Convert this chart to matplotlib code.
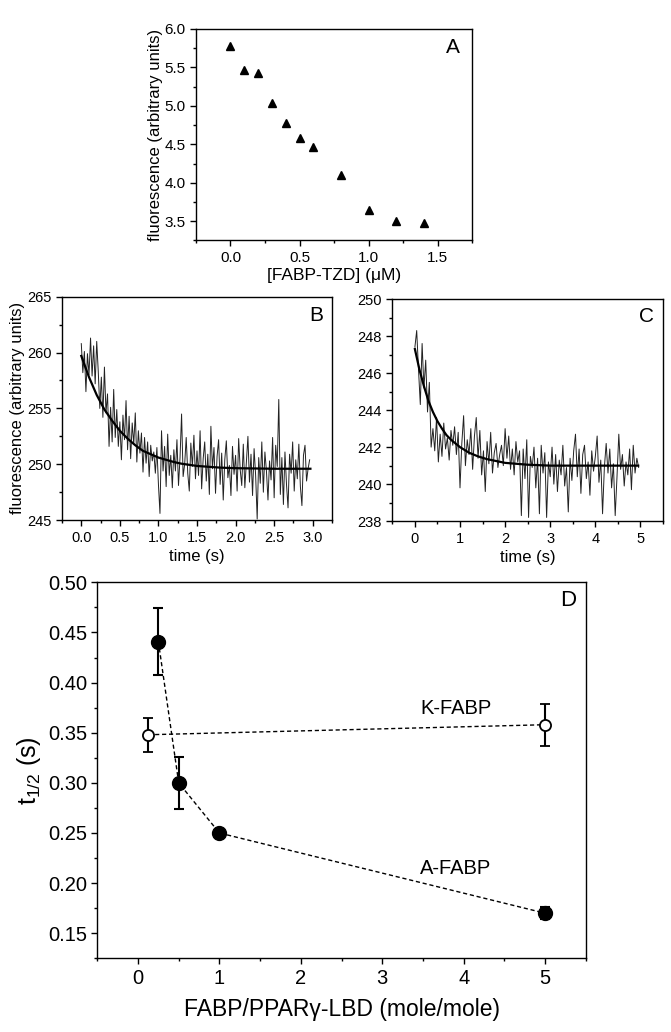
import numpy as np
import matplotlib
matplotlib.use("Agg")
import matplotlib.pyplot as plt
from matplotlib.ticker import MultipleLocator

plt.rcParams["font.family"] = ["Liberation Sans", "DejaVu Sans"]
plt.rcParams["mathtext.fontset"] = "custom"
plt.rcParams["mathtext.rm"] = "Liberation Sans"
plt.rcParams["mathtext.it"] = "Liberation Sans"

# Panel A: titration
a_conc = [0.0, 0.1, 0.2, 0.3, 0.4, 0.5, 0.6, 0.8, 1.0, 1.2, 1.4]
a_fluor = [5.78, 5.47, 5.43, 5.04, 4.78, 4.58, 4.46, 4.10, 3.64, 3.50, 3.48]

# Panel B: stopped-flow trace (0.02 s per sample) and fitted curve
b_step = 0.02
b_trace = [
    260.8, 258.2, 260.1, 256.5, 259.9, 258.0, 261.3, 257.9, 260.6, 257.2, 261.0,
    258.3, 255.0, 257.8, 254.2, 258.7, 254.6, 256.3, 251.6, 255.1, 252.0,
    256.7, 252.4, 254.9, 251.6, 253.8, 250.4, 254.4, 252.2, 255.7, 251.3,
    254.3, 250.5, 253.7, 251.8, 254.6, 250.2, 253.0, 251.0, 252.8, 249.3,
    252.4, 250.1, 252.0, 248.9, 251.7, 250.3, 251.1, 249.2, 251.5, 248.2,
    245.6, 253.0, 249.4, 251.6, 248.0, 252.7, 249.0, 250.8, 247.9, 251.3,
    249.4, 252.2, 248.1, 250.6, 254.5, 248.9, 250.0, 252.4, 249.2, 247.6,
    251.9, 249.8, 252.6, 248.7, 251.2, 249.0, 253.0, 247.8, 250.5, 252.0,
    248.5, 250.9, 247.3, 253.4, 249.6, 251.5, 247.4, 250.7, 252.2, 248.2,
    251.0, 246.8, 250.4, 252.1, 248.8, 249.9, 247.2, 251.6, 249.1, 250.8,
    247.6, 252.3, 249.5, 248.1, 251.8, 247.9, 250.2, 252.5, 248.4, 250.9,
    247.2, 251.4, 249.0, 245.1, 250.6, 248.3, 252.0, 247.5, 251.1, 249.4,
    246.8, 250.3, 248.6, 252.4, 247.0, 251.7, 249.8, 255.8, 247.3, 250.6,
    246.4, 251.1, 248.2, 246.1, 250.9, 249.2, 252.0, 247.6, 250.4, 248.7,
    251.8, 248.0, 246.3, 250.8, 251.7, 248.5, 249.6, 250.4,
]
b_fit_t = [0.0, 0.1, 0.2, 0.3, 0.4, 0.5, 0.6, 0.7, 0.8, 0.9, 1.0, 1.1, 1.2,
           1.3, 1.4, 1.5, 1.6, 1.7, 1.8, 2.0, 2.5, 2.97]
b_fit = [259.7, 257.8, 256.2, 254.9, 253.9, 253.0, 252.3, 251.7, 251.2, 250.9,
         250.6, 250.4, 250.2, 250.05, 249.95, 249.85, 249.8, 249.75, 249.7,
         249.65, 249.6, 249.6]

# Panel C: stopped-flow trace (0.04 s per sample) and fitted curve
c_step = 0.04
c_trace = [
    247.4, 248.3, 246.2, 244.3, 247.6, 245.2, 246.7, 243.9, 245.5, 242.0,
    243.0, 241.8, 243.6, 241.2, 242.7, 241.5, 243.3, 241.9, 242.5, 241.3,
    242.9, 242.1, 243.1, 241.6, 242.8, 239.8, 242.2, 243.7, 241.0, 242.4,
    241.6, 243.0, 240.8, 242.6, 243.6, 241.4, 242.9, 240.5, 241.8, 239.6,
    242.3, 241.1, 242.8, 240.6, 241.7, 242.2, 240.9, 241.6, 242.1, 241.0,
    243.0, 241.4, 242.6, 240.8, 241.9, 240.5, 242.3, 241.2, 241.8, 238.3,
    241.9, 240.3, 242.4, 238.2, 241.5, 240.9, 242.0, 239.8, 241.4, 238.4,
    242.1, 240.6, 241.7, 238.2, 241.2, 240.4, 242.0, 240.0, 241.6, 239.6,
    241.3, 240.5, 242.1, 239.9, 240.9, 238.5, 241.4, 240.2, 241.8, 242.7,
    240.4, 241.9, 239.5, 241.6, 242.1, 240.3, 241.2, 239.4, 241.8, 240.7,
    241.5, 242.6, 240.1, 241.3, 238.4, 240.9, 242.2, 240.6, 241.9, 239.8,
    241.1, 238.3, 240.4, 242.7, 240.8, 241.6, 239.9, 241.2, 240.5, 241.9,
    239.7, 242.1, 240.6, 241.4, 240.9,
]
c_fit_t = [0.0, 0.1, 0.2, 0.3, 0.4, 0.5, 0.6, 0.7, 0.8, 0.9, 1.0, 1.2, 1.4,
           1.6, 1.8, 2.0, 2.5, 3.0, 4.0, 4.95]
c_fit = [247.3, 246.2, 245.3, 244.5, 243.9, 243.4, 243.0, 242.65, 242.4, 242.2,
         242.0, 241.7, 241.5, 241.35, 241.25, 241.15, 241.05, 241.0, 241.0, 241.0]

# Panel D: half-times
a_fabp_ratio = [0.25, 0.5, 1.0, 5.0]
a_fabp_t12 = [0.441, 0.300, 0.250, 0.170]
a_fabp_err = [0.033, 0.026, 0.0, 0.006]
k_fabp_ratio = [0.125, 5.0]
k_fabp_t12 = [0.348, 0.358]
k_fabp_err = [0.017, 0.021]


def style_axes(ax, tick_size):
    ax.tick_params(which="both", direction="out", top=False, right=False,
                   width=1, labelsize=tick_size)
    ax.tick_params(which="major", length=4)
    ax.tick_params(which="minor", length=2.5)
    for sp in ax.spines.values():
        sp.set_linewidth(1)


fig = plt.figure(figsize=(6.71, 10.32), dpi=100)

# ---- A ----
ax_a = fig.add_axes([0.292, 0.767, 0.412, 0.205])
ax_a.plot(a_conc, a_fluor, linestyle="none", marker="^", color="black", markersize=6)
ax_a.set_xlim(-0.25, 1.75)
ax_a.set_ylim(3.25, 6.0)
ax_a.xaxis.set_major_locator(MultipleLocator(0.5))
ax_a.xaxis.set_minor_locator(MultipleLocator(0.25))
ax_a.yaxis.set_major_locator(MultipleLocator(0.5))
ax_a.yaxis.set_minor_locator(MultipleLocator(0.25))
ax_a.xaxis.set_major_formatter(plt.FormatStrFormatter("%.1f"))
ax_a.yaxis.set_major_formatter(plt.FormatStrFormatter("%.1f"))
style_axes(ax_a, 11)
ax_a.set_xlabel("[FABP-TZD] (\u03bcM)", fontsize=12.5)
ax_a.set_ylabel("fluorescence (arbitrary units)", fontsize=12)
ax_a.xaxis.set_label_coords(0.5, -0.167)
ax_a.xaxis.label.set_va("center")
ax_a.yaxis.set_label_coords(-0.148, 0.5)
ax_a.yaxis.label.set_va("center")
ax_a.text(0.955, 0.91, "A", transform=ax_a.transAxes, ha="right", va="center", fontsize=15)

# ---- B ----
ax_b = fig.add_axes([0.0924, 0.496, 0.4024, 0.2165])
b_time = np.arange(len(b_trace)) * b_step
ax_b.plot(b_time, b_trace, color="#222222", lw=0.7)
ax_b.plot(b_fit_t, b_fit, color="black", lw=1.6)
ax_b.set_xlim(-0.25, 3.25)
ax_b.set_ylim(245, 265)
ax_b.xaxis.set_major_locator(MultipleLocator(0.5))
ax_b.xaxis.set_minor_locator(MultipleLocator(0.25))
ax_b.yaxis.set_major_locator(MultipleLocator(5))
ax_b.yaxis.set_minor_locator(MultipleLocator(2.5))
ax_b.xaxis.set_major_formatter(plt.FormatStrFormatter("%.1f"))
style_axes(ax_b, 10.5)
ax_b.set_xlabel("time (s)", fontsize=12)
ax_b.set_ylabel("fluorescence (arbitrary units)", fontsize=12)
ax_b.xaxis.set_label_coords(0.5, -0.165)
ax_b.xaxis.label.set_va("center")
ax_b.yaxis.set_label_coords(-0.163, 0.5)
ax_b.yaxis.label.set_va("center")
ax_b.text(0.94, 0.915, "B", transform=ax_b.transAxes, ha="center", va="center", fontsize=15)

# ---- C ----
ax_c = fig.add_axes([0.5847, 0.495, 0.4034, 0.2152])
c_time = np.arange(len(c_trace)) * c_step
ax_c.plot(c_time, c_trace, color="#222222", lw=0.7)
ax_c.plot(c_fit_t, c_fit, color="black", lw=1.6)
ax_c.set_xlim(-0.5, 5.5)
ax_c.set_ylim(238, 250)
ax_c.xaxis.set_major_locator(MultipleLocator(1))
ax_c.xaxis.set_minor_locator(MultipleLocator(0.5))
ax_c.yaxis.set_major_locator(MultipleLocator(2))
ax_c.yaxis.set_minor_locator(MultipleLocator(1))
style_axes(ax_c, 10.5)
ax_c.set_xlabel("time (s)", fontsize=12)
ax_c.xaxis.set_label_coords(0.5, -0.165)
ax_c.xaxis.label.set_va("center")
ax_c.text(0.94, 0.92, "C", transform=ax_c.transAxes, ha="center", va="center", fontsize=15)

# ---- D ----
ax_d = fig.add_axes([0.145, 0.0714, 0.728, 0.3643])
ax_d.plot(a_fabp_ratio, a_fabp_t12, color="black", lw=1, dashes=(3, 2))
ax_d.plot(k_fabp_ratio, k_fabp_t12, color="black", lw=1, dashes=(3, 2))
ax_d.errorbar(a_fabp_ratio, a_fabp_t12, yerr=a_fabp_err, fmt="o", color="black",
              markersize=10, capsize=3.5, elinewidth=1.5, capthick=1.5)
ax_d.errorbar(k_fabp_ratio, k_fabp_t12, yerr=k_fabp_err, fmt="o", color="black",
              markerfacecolor="white", markeredgewidth=1.3, markersize=8,
              capsize=3.5, elinewidth=1.5, capthick=1.5)
ax_d.set_xlim(-0.5, 5.5)
ax_d.set_ylim(0.125, 0.50)
ax_d.xaxis.set_major_locator(MultipleLocator(1))
ax_d.xaxis.set_minor_locator(MultipleLocator(0.5))
ax_d.yaxis.set_major_locator(MultipleLocator(0.05))
ax_d.yaxis.set_minor_locator(MultipleLocator(0.025))
ax_d.yaxis.set_major_formatter(plt.FormatStrFormatter("%.2f"))
style_axes(ax_d, 14.5)
ax_d.set_xlabel("FABP/PPAR\u03b3-LBD (mole/mole)", fontsize=16.5)
ax_d.set_ylabel("t$_{1/2}$ (s)", fontsize=18)
ax_d.xaxis.set_label_coords(0.5, -0.135)
ax_d.xaxis.label.set_va("center")
ax_d.yaxis.set_label_coords(-0.14, 0.5)
ax_d.yaxis.label.set_va("center")
ax_d.text(3.9, 0.374, "K-FABP", ha="center", va="center", fontsize=14.5)
ax_d.text(3.9, 0.215, "A-FABP", ha="center", va="center", fontsize=14.5)
ax_d.text(0.965, 0.953, "D", transform=ax_d.transAxes, ha="center", va="center", fontsize=16)

fig.savefig("out.png", dpi=100)
